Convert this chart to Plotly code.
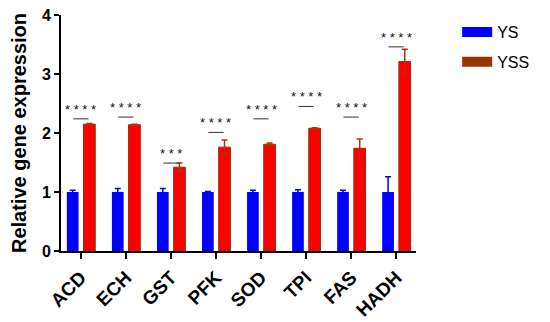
import plotly.graph_objects as go

genes = ["ACD", "ECH", "GST", "PFK", "SOD", "TPI", "FAS", "HADH"]
ys_mean = [1.0, 1.0, 1.0, 1.0, 1.0, 1.0, 1.0, 1.0]
ys_err = [0.03, 0.06, 0.06, 0.01, 0.03, 0.04, 0.03, 0.26]
yss_mean = [2.15, 2.14, 1.42, 1.76, 1.81, 2.08, 1.74, 3.21]
yss_err = [0.01, 0.01, 0.07, 0.12, 0.02, 0.01, 0.16, 0.21]
sig_text = ["****", "****", "***", "****", "****", "****", "****", "****"]
sig_line = [2.24, 2.27, 1.49, 2.01, 2.24, 2.45, 2.27, 3.46]

x = list(range(len(genes)))
font = "Arial, Liberation Sans, sans-serif"

fig = go.Figure()
fig.add_trace(go.Bar(
    x=x, y=ys_mean, width=0.26, offset=-0.31,
    marker=dict(color="#0000ff", line=dict(width=0)),
    error_y=dict(type="data", array=ys_err, color="#0000ff", thickness=1.5, width=3),
    showlegend=False,
))
fig.add_trace(go.Bar(
    x=x, y=yss_mean, width=0.26, offset=0.06,
    marker=dict(color="#ff0000", line=dict(color="#a0280a", width=1)),
    error_y=dict(type="data", array=yss_err, color="#b03010", thickness=1.5, width=3),
    showlegend=False,
))
# legend swatches (thick line icons give a wide box like the original)
fig.add_trace(go.Scatter(x=[None], y=[None], name="YS", mode="lines", legendgroup="a",
                         line=dict(color="#0000ff", width=12)))
fig.add_trace(go.Scatter(x=[None], y=[None], name="YSS", mode="lines", legendgroup="b",
                         line=dict(color="#993300", width=12)))

# significance bars and stars
for i, (t, h) in enumerate(zip(sig_text, sig_line)):
    fig.add_shape(type="line", x0=i - 0.17, x1=i + 0.17, y0=h, y1=h,
                  line=dict(color="#333333", width=1))
    fig.add_annotation(x=i, y=h, text=" ".join(t), showarrow=False,
                       yanchor="bottom", font=dict(family=font, size=13, color="#111111"))

fig.update_layout(
    width=550, height=322,
    margin=dict(l=53, r=142, t=7, b=79),
    plot_bgcolor="white", paper_bgcolor="white",
    font=dict(family=font, color="black"),
    barmode="overlay",
    xaxis=dict(
        range=[-0.44, 7.44], tickvals=x, ticktext=genes, tickangle=-45,
        showline=True, linecolor="black", linewidth=2, showgrid=False, zeroline=False,
        ticks="outside", ticklen=6, tickwidth=2, tickcolor="black", automargin=False,
        tickfont=dict(family=font, size=19, weight="bold"),
    ),
    yaxis=dict(
        range=[0, 4], tickvals=[0, 1, 2, 3, 4],
        showline=True, linecolor="black", linewidth=2, showgrid=False, zeroline=False,
        ticks="outside", ticklen=5, tickwidth=2, tickcolor="black", automargin=False,
        ticklabeloverflow="allow",
        tickfont=dict(family=font, size=16, weight="bold"),
        title=dict(text="Relative gene expression", font=dict(family=font, size=20, weight="bold"),
                   standoff=10),
    ),
    legend=dict(x=1.116, y=1.0, xanchor="left", yanchor="top",
                font=dict(family=font, size=16), tracegroupgap=6),
)

fig.write_html("out.html")
